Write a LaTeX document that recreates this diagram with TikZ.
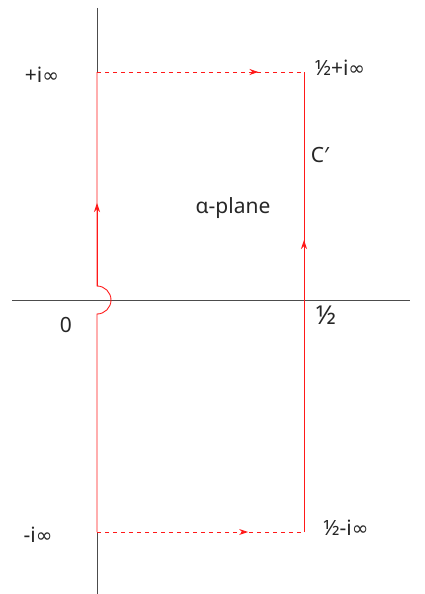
\documentclass[tikz,border=0pt]{standalone}
\usepackage{fontspec}
\setmainfont{Noto Sans}
\newfontfamily\symfont{DejaVu Sans}
\newcommand{\infy}{{\symfont\fontsize{20}{22}\selectfont ∞}}
\usetikzlibrary{arrows.meta, decorations.markings}

\begin{document}
\begin{tikzpicture}[
  x=1pt, y=-1pt,
  axis/.style={draw=black!70, line width=1pt},
  path/.style={draw=red!90, line width=0.9pt},
  flow/.style={path, dashed, dash pattern=on 4pt off 4pt,
               postaction={decorate},
               decoration={markings, mark=at position #1 with {\arrow{Stealth[length=9pt,width=6pt]}}}},
  uparr/.style={path, -{Stealth[length=9pt,width=6pt]}},
  lbl/.style={font=\fontsize{21}{23}\selectfont, text=black!85, inner sep=1pt}
]
  \useasboundingbox (0,0) rectangle (425,594);

  % Corners of the contour
  \coordinate (tl) at (97,72);
  \coordinate (tr) at (304,72);
  \coordinate (bl) at (97,532);
  \coordinate (br) at (304,532);

  % Axes
  \draw[axis] (12,300) -- (410,300);
  \draw[axis] (97,8) -- (tl);
  \draw[axis] (bl) -- (97,594);

  % Contour
  \draw[path] (tl) -- (97,286) arc[start angle=-90, end angle=90, radius=14] -- (bl);
  \draw[uparr] (97,286) -- (97,203);
  \draw[path] (tr) -- (br);
  \draw[uparr] (br) -- (304,240);
  \draw[flow=0.78] (tl) -- (tr);
  \draw[flow=0.73] (bl) -- (br);

  % Labels
  \node[lbl] (pinf)  at (42,75)   {+i\infy};
  \node[lbl] (hpinf) at (340,68)  {½+i\infy};
  \node[lbl] (cp)    at (320,155) {C′};
  \node[lbl] (plane) at (233,208) {α-plane};
  \node[lbl] (zero)  at (66,325)  {0};
  \node[lbl, font=\fontsize{26}{28}\selectfont] (half) at (326,315) {½};
  \node[lbl] (minf)  at (38,535)  {-i\infy};
  \node[lbl] (hminf) at (346,528) {½-i\infy};
\end{tikzpicture}
\end{document}
